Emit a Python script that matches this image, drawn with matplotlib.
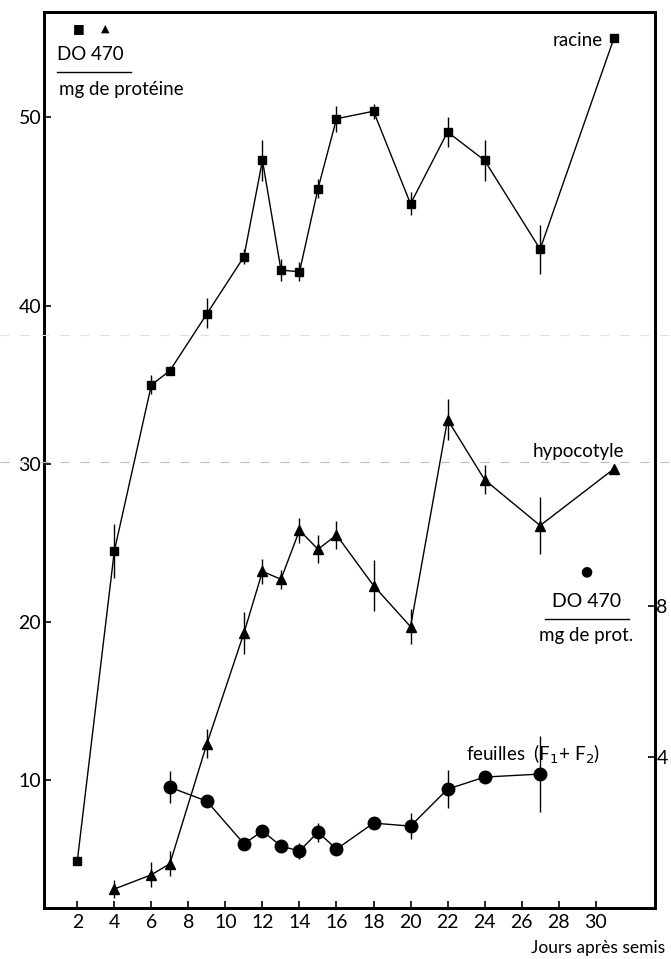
import matplotlib
matplotlib.use('Agg')
import matplotlib.pyplot as plt
import numpy as np
from matplotlib.lines import Line2D

plt.rcParams['font.family'] = ['Lato', 'DejaVu Sans']

# racine (carrés, axe gauche)
jours_racine = [2, 4, 6, 7, 9, 11, 12, 13, 14, 15, 16, 18, 20, 22, 24, 27, 31]
racine = [4.9, 24.5, 35.0, 35.9, 39.5, 42.6, 47.7, 41.9, 41.8, 46.2, 49.9, 50.3, 45.4, 49.2, 47.7, 43.0, 54.2]
racine_err = [0, 1.7, 0.6, 0.3, 0.9, 0.4, 1.1, 0.6, 0.5, 0.5, 0.7, 0.4, 0.6, 0.8, 1.1, 1.3, 0]

# hypocotyle (triangles, axe gauche)
jours_hypo = [4, 6, 7, 9, 11, 12, 13, 14, 15, 16, 18, 20, 22, 24, 27, 31]
hypo = [3.1, 4.0, 4.7, 12.3, 19.3, 23.2, 22.7, 25.8, 24.6, 25.5, 22.3, 19.7, 32.8, 29.0, 26.1, 29.7]
hypo_err = [0.6, 0.8, 0.8, 0.9, 1.3, 0.8, 0.6, 0.8, 0.9, 0.9, 1.6, 1.1, 1.3, 0.9, 1.8, 0]

# feuilles F1+F2 (cercles, axe droit)
jours_feuilles = [7, 9, 11, 12, 13, 14, 15, 16, 18, 20, 22, 24, 27]
feuilles = [3.2, 2.83, 1.70, 2.04, 1.64, 1.51, 2.01, 1.56, 2.25, 2.17, 3.15, 3.47, 3.55]
feuilles_err = [0.42, 0, 0.1, 0.1, 0, 0.2, 0.25, 0, 0.1, 0.35, 0.5, 0.15, 1.0]

x_ticks = list(range(2, 31, 2))
y_ticks = [10, 20, 30, 40, 50]
y2_ticks = [4, 8]

# l'échelle de gauche est étirée au-dessus de 40 sur la figure d'origine
def fwd(v):
    return np.interp(v, [-100, 40, 300], [-100, 40, 40 + 260 * 1.196])

def inv(v):
    return np.interp(v, [-100, 40, 40 + 260 * 1.196], [-100, 40, 300])

fig = plt.figure(figsize=(6.71, 9.59), dpi=100)
ax = fig.add_axes([0.0656, 0.0532, 0.9104, 0.9343])
ax.set_yscale('function', functions=(fwd, inv))

ax.errorbar(jours_racine, racine, yerr=racine_err, color='black', lw=1, elinewidth=1,
            marker='s', ms=6, capsize=0)
ax.errorbar(jours_hypo, hypo, yerr=hypo_err, color='black', lw=1, elinewidth=1,
            marker='^', ms=6.5, capsize=0)

ax.set_xlim(0.2, 33.2)
ax.set_ylim(1.9, 55.55)
ax.set_xticks(x_ticks)
ax.set_yticks(y_ticks)
ax.tick_params(axis='both', direction='in', length=5, width=1.2, labelsize=14)
ax.tick_params(axis='x', pad=4)
ax.tick_params(axis='y', pad=2)

ax2 = ax.twinx()
ax2.errorbar(jours_feuilles, feuilles, yerr=feuilles_err, color='black', lw=1, elinewidth=1,
             marker='o', ms=9, capsize=0)
ax2.set_ylim(0, 23.75)
ax2.set_yticks(y2_ticks)
ax2.tick_params(axis='y', direction='in', length=5, width=1.2, labelsize=14, pad=1,
                left=False, labelleft=False, right=True, labelright=True)

for a in (ax, ax2):
    for s in a.spines.values():
        s.set_linewidth(2)

ax.set_xlabel('Jours après semis', fontsize=12.5, ha='right')
ax.xaxis.set_label_coords(1.016, -0.036)

# annotations
ax.text(0.057, 0.981, '■', transform=ax.transAxes, fontsize=9, ha='center', va='center',
        family=['DejaVu Sans'])
ax.text(0.1, 0.981, '▲', transform=ax.transAxes, fontsize=8, ha='center', va='center',
        family=['DejaVu Sans'])
ax.text(0.022, 0.952, 'DO 470', transform=ax.transAxes, fontsize=13.5, ha='left', va='center')
ax.add_line(Line2D([0.022, 0.142], [0.933, 0.933], transform=ax.transAxes, color='black', lw=1))
ax.text(0.024, 0.914, 'mg de protéine', transform=ax.transAxes, fontsize=13.5, ha='left', va='center')

ax.text(0.915, 0.968, 'racine', transform=ax.transAxes, fontsize=13.5, ha='right', va='center')
ax.text(0.95, 0.51, 'hypocotyle', transform=ax.transAxes, fontsize=13.5, ha='right', va='center')
ax.text(0.91, 0.172, 'feuilles  (F$_\\mathit{1}$+ F$_2$)', transform=ax.transAxes, fontsize=13.5,
        ha='right', va='center')

ax.text(0.888, 0.376, '●', transform=ax.transAxes, fontsize=10, ha='center', va='center',
        family=['DejaVu Sans'])
ax.text(0.888, 0.342, 'DO 470', transform=ax.transAxes, fontsize=14, ha='center', va='center')
ax.add_line(Line2D([0.82, 0.957], [0.323, 0.323], transform=ax.transAxes, color='black', lw=1))
ax.text(0.888, 0.304, 'mg de prot.', transform=ax.transAxes, fontsize=13.5, ha='center', va='center')

# traits gris du scan
fig.add_artist(Line2D([0, 1], [0.518, 0.518], transform=fig.transFigure, color='#bbbbbb',
                      lw=0.8, ls=(0, (8, 10))))
fig.add_artist(Line2D([0, 1], [0.651, 0.651], transform=fig.transFigure, color='#e0e0e0',
                      lw=0.8, ls=(0, (8, 10))))

fig.savefig('out.png', dpi=100)
